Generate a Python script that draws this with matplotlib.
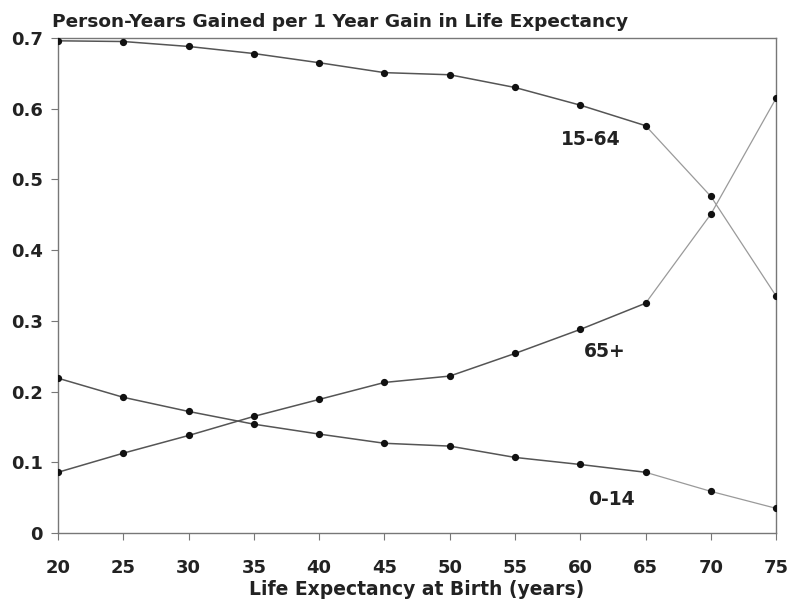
import matplotlib
matplotlib.use("Agg")
import matplotlib.pyplot as plt

life_exp = [20, 25, 30, 35, 40, 45, 50, 55, 60, 65, 70, 75]
age_15_64 = [0.696, 0.695, 0.688, 0.678, 0.665, 0.651, 0.648, 0.630, 0.605, 0.576, 0.476, 0.335]
age_65p = [0.086, 0.113, 0.138, 0.165, 0.189, 0.213, 0.222, 0.254, 0.288, 0.325, 0.451, 0.615]
age_0_14 = [0.219, 0.192, 0.172, 0.154, 0.140, 0.127, 0.123, 0.107, 0.097, 0.086, 0.059, 0.035]
labels = ["15-64", "65+", "0-14"]
y_ticks = [0, 0.1, 0.2, 0.3, 0.4, 0.5, 0.6, 0.7]
y_tick_labels = ["0", "0.1", "0.2", "0.3", "0.4", "0.5", "0.6", "0.7"]
x_ticks = [20, 25, 30, 35, 40, 45, 50, 55, 60, 65, 70, 75]

plt.rcParams['font.family'] = ['DejaVu Sans']

fig = plt.figure(figsize=(7.88, 5.99), dpi=100)
ax = fig.add_axes([0.0736, 0.110, 0.9114, 0.8266])

for series in (age_15_64, age_65p, age_0_14):
    ax.plot(life_exp[:10], series[:10], color='#555555', lw=1.1, zorder=2)
    ax.plot(life_exp[9:], series[9:], color='#9a9a9a', lw=0.9, zorder=2)
    ax.plot(life_exp, series, linestyle='none', marker='o', ms=4.2,
            color='#111111', zorder=3)

label_pos = [(60.8, 0.557), (61.9, 0.257), (62.4, 0.047)]
for lab, (lx, ly) in zip(labels, label_pos):
    ax.text(lx, ly, lab, fontsize=13.5, fontweight='bold', color='#222222',
            ha='center', va='center')

ax.set_xlim(20, 75)
ax.set_ylim(0, 0.7)
ax.set_xticks(x_ticks)
ax.set_yticks(y_ticks)
ax.set_yticklabels(y_tick_labels)
ax.tick_params(direction='out', length=5, width=0.8, color='#777777',
               labelsize=13, labelcolor='#222222')
ax.tick_params(axis='x', pad=14)
ax.tick_params(axis='y', pad=6)
for lab in ax.get_xticklabels() + ax.get_yticklabels():
    lab.set_fontweight('bold')
for sp in ax.spines.values():
    sp.set_color('#777777')
    sp.set_linewidth(1.0)

ax.set_xlabel("Life Expectancy at Birth (years)", fontsize=13.5,
              fontweight='bold', color='#222222', labelpad=2)
fig.text(0.066, 0.964, "Person-Years Gained per 1 Year Gain in Life Expectancy",
         fontsize=13.3, fontweight='bold', color='#222222', ha='left', va='center')

fig.savefig("out.png", dpi=100)
